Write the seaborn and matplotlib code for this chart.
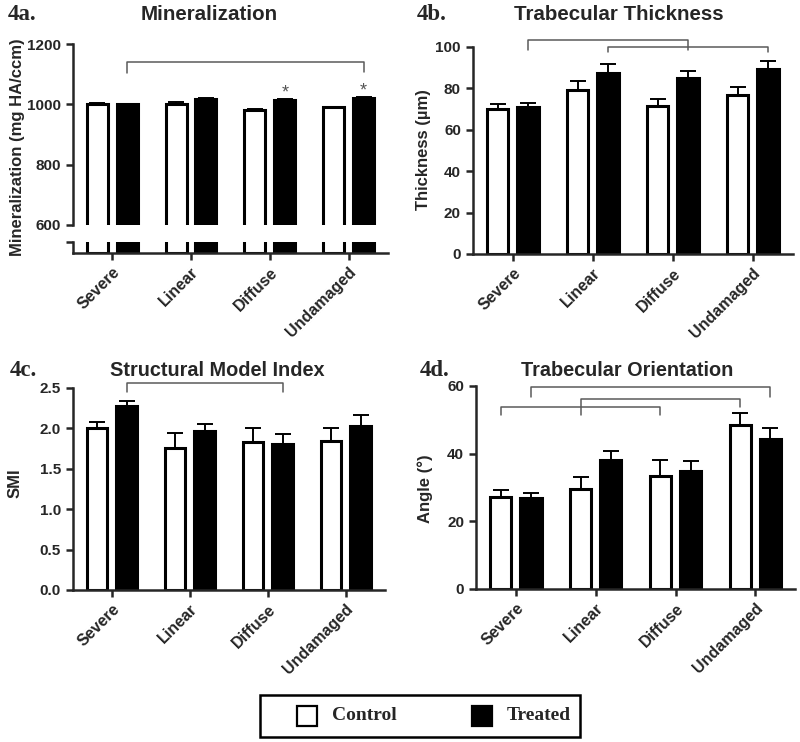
import matplotlib
matplotlib.use('Agg')
from matplotlib import pyplot as plt
from matplotlib.patches import Rectangle
import seaborn as sns
import pandas as pd

####### DATA #######
groups = ['Severe', 'Linear', 'Diffuse', 'Undamaged']
conditions = ['Control', 'Treated']

min_ctrl = [1001, 1000, 981, 990]
min_ctrl_err = [3, 7, 5, 2]
min_trt = [1000, 1018, 1014, 1022]
min_trt_err = [2, 2, 2, 2]

thk_ctrl = [70.0, 79.1, 71.7, 76.9]
thk_ctrl_err = [2.4, 4.4, 3.4, 3.8]
thk_trt = [70.8, 87.6, 84.8, 89.2]
thk_trt_err = [2.2, 4.1, 3.6, 4.1]

smi_ctrl = [2.00, 1.76, 1.83, 1.85]
smi_ctrl_err = [0.08, 0.18, 0.17, 0.16]
smi_trt = [2.28, 1.97, 1.81, 2.03]
smi_trt_err = [0.06, 0.09, 0.12, 0.13]

ang_ctrl = [27.1, 29.6, 33.5, 48.4]
ang_ctrl_err = [2.2, 3.6, 4.7, 3.5]
ang_trt = [26.8, 38.0, 34.8, 44.4]
ang_trt_err = [1.5, 2.9, 3.0, 3.1]

# brackets: (group_a, cond_a, group_b, cond_b, top, leg_a, leg_b)
min_brackets = [(0, 1, 3, 1, 1140, 1104, 1107)]
thk_brackets = [(0, 1, 2, 1, 103.5, 98.4, 98.4),
                (1, 1, 3, 1, 100.0, 97.6, 97.6)]
smi_brackets = [(0, 1, 2, 1, 2.56, 2.45, 2.45)]
ang_brackets = [(0, 1, 3, 1, 59.8, 56.8, 56.8),
                (1, 0, 3, 0, 56.3, 51.4, 53.8),
                (0, 0, 2, 0, 53.8, 51.4, 51.4)]
# significance stars: (group, cond, y)
min_stars = [(2, 1, 1010), (3, 1, 1017)]
##### END DATA #####

####### PLOT PARAMS #######
sns.set_style('ticks')
plt.rcParams['font.family'] = ['Liberation Sans', 'DejaVu Sans']
plt.rcParams['font.weight'] = 'bold'
plt.rcParams['axes.linewidth'] = 1.8
PAL = {'Control': 'white', 'Treated': 'black'}
BRACKET_COLOR = '#5a5a5a'
SERIF = ['Liberation Serif', 'DejaVu Serif']
TICK_SIZE = 11
##### END PLOT PARAMS #####


def make_df(ctrl, trt):
    rows = []
    for g, c, t in zip(groups, ctrl, trt):
        rows.append({'group': g, 'condition': 'Control', 'value': c})
        rows.append({'group': g, 'condition': 'Treated', 'value': t})
    return pd.DataFrame(rows)


def bars(ax, df):
    sns.barplot(data=df, x='group', y='value', hue='condition', order=groups,
                hue_order=conditions, palette=PAL, edgecolor='black',
                linewidth=2.2, width=0.76, gap=0.3, errorbar=None,
                legend=False, ax=ax)
    ax.set_xlabel('')
    ax.set_ylabel('')
    ax.set_xlim(-0.5, 3.5)
    ax.tick_params(axis='both', width=1.8, length=5, labelsize=TICK_SIZE)
    sns.despine(ax=ax)


def centers(ax):
    out = []
    for cont in ax.containers[:2]:
        out.append([p.get_x() + p.get_width() / 2 for p in cont.patches])
    return out


def errbars(ax, ctrl, ctrl_err, trt, trt_err):
    xs = centers(ax)
    for x, m, e in [(xs[0], ctrl, ctrl_err), (xs[1], trt, trt_err)]:
        ax.errorbar(x, m, yerr=[[0] * len(e), e], fmt='none', ecolor='black',
                    elinewidth=1.4, capsize=6, capthick=1.4, zorder=1)


def brackets(ax, specs):
    xs = centers(ax)
    for ga, ca, gb, cb, top, la, lb in specs:
        xa = xs[ca][ga]
        xb = xs[cb][gb]
        ax.plot([xa, xa, xb, xb], [la, top, top, lb], color=BRACKET_COLOR,
                lw=1.1, clip_on=False, zorder=5)


def xlabels(ax):
    ax.set_xticks(range(len(groups)))
    ax.set_xticklabels(groups, rotation=45, ha='right', rotation_mode='anchor',
                       fontsize=11.5, fontweight='bold')


fig = plt.figure(figsize=(8, 7.42), dpi=100)
W, H = 800, 742

# 4a - broken axis
ax_a = fig.add_axes([0.091, 0.6968, 0.394, 0.2439])
ax_a2 = fig.add_axes([0.091, 0.659, 0.394, 0.0148])
df_a = make_df(min_ctrl, min_trt)
bars(ax_a, df_a)
bars(ax_a2, df_a)
ax_a.set_ylim(600, 1200)
ax_a.set_yticks([600, 800, 1000, 1200])
ax_a.spines['bottom'].set_visible(False)
ax_a.tick_params(axis='x', bottom=False, labelbottom=False)
ax_a2.set_ylim(0, 100)
ax_a2.set_yticks([100])
ax_a2.set_yticklabels([''])
xlabels(ax_a2)
errbars(ax_a, min_ctrl, min_ctrl_err, min_trt, min_trt_err)
brackets(ax_a, min_brackets)
xs_a = centers(ax_a)
for g, c, y in min_stars:
    ax_a.text(xs_a[c][g], y, '*', ha='center', va='bottom', fontsize=13,
              color='#555555', fontweight='normal')

# 4b
ax_b = fig.add_axes([0.591, 0.6577, 0.4, 0.279])
bars(ax_b, make_df(thk_ctrl, thk_trt))
ax_b.set_ylim(0, 100)
ax_b.set_yticks([0, 20, 40, 60, 80, 100])
xlabels(ax_b)
errbars(ax_b, thk_ctrl, thk_ctrl_err, thk_trt, thk_trt_err)
brackets(ax_b, thk_brackets)

# 4c
ax_c = fig.add_axes([0.091, 0.2049, 0.39, 0.2722])
bars(ax_c, make_df(smi_ctrl, smi_trt))
ax_c.set_ylim(0, 2.5)
ax_c.set_yticks([0, 0.5, 1.0, 1.5, 2.0, 2.5])
ax_c.set_yticklabels(['0.0', '0.5', '1.0', '1.5', '2.0', '2.5'])
xlabels(ax_c)
errbars(ax_c, smi_ctrl, smi_ctrl_err, smi_trt, smi_trt_err)
brackets(ax_c, smi_brackets)

# 4d
ax_d = fig.add_axes([0.595, 0.2062, 0.399, 0.2736])
bars(ax_d, make_df(ang_ctrl, ang_trt))
ax_d.set_ylim(0, 60)
ax_d.set_yticks([0, 20, 40, 60])
xlabels(ax_d)
errbars(ax_d, ang_ctrl, ang_ctrl_err, ang_trt, ang_trt_err)
brackets(ax_d, ang_brackets)


# titles, panel labels, y labels
def ftext(x, y, s, **kw):
    fig.text(x / W, 1 - y / H, s, **kw)


panel = dict(family=SERIF, fontsize=16.5, fontweight='bold', va='center')
ftext(8, 15, '4a.', **panel)
ftext(417, 15, '4b.', **panel)
ftext(10, 371, '4c.', **panel)
ftext(420, 371, '4d.', **panel)
title = dict(fontweight='bold', ha='center', va='center')
ftext(209, 14, 'Mineralization', fontsize=14.8, **title)
ftext(619, 15, 'Trabecular Thickness', fontsize=14.8, **title)
ftext(217, 371, 'Structural Model Index', fontsize=14.3, **title)
ftext(627, 371, 'Trabecular Orientation', fontsize=14.3, **title)

ylab = dict(fontsize=12, fontweight='bold', rotation=90, ha='center', va='center')
ftext(18, 147, 'Mineralization (mg HA/ccm)', **ylab)
ftext(423, 150, 'Thickness (\u00b5m)', **ylab)
ftext(15, 483, 'SMI', **ylab)
ftext(425, 489, 'Angle (\u00b0)', **ylab)

# legend box drawn by hand
fig.add_artist(Rectangle((260 / W, 1 - 737 / H), 320 / W, 42 / H, transform=fig.transFigure,
                         facecolor='white', edgecolor='black', linewidth=1.8))
for x0, cond, color in [(297, 'Control', 'white'), (472, 'Treated', 'black')]:
    fig.add_artist(Rectangle((x0 / W, 1 - 726 / H), 20 / W, 20 / H, transform=fig.transFigure,
                             facecolor=color, edgecolor='black', linewidth=1.6))
    ftext(x0 + 35, 716, cond, family=SERIF, fontsize=14, fontweight='bold', va='center')

fig.savefig('out.png', dpi=100)
